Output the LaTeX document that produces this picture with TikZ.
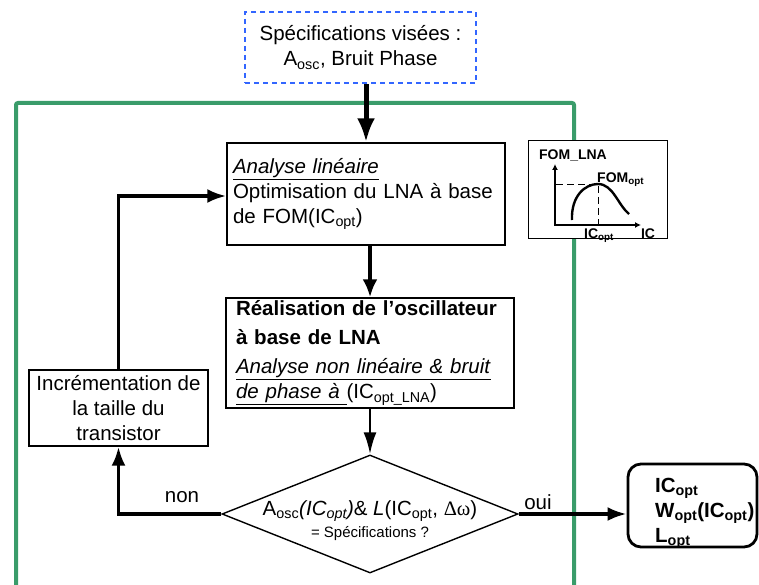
\documentclass[tikz,border=0pt]{standalone}
\usepackage{fontspec}
\setmainfont{Liberation Sans}
\newfontfamily\symbfont{Liberation Serif}
\usepackage{tikz}
\usetikzlibrary{arrows.meta,shapes.geometric}
\definecolor{framegreen}{RGB}{58,156,106}
\definecolor{specblue}{RGB}{51,102,255}

\begin{document}
\begin{tikzpicture}[x=1pt, y=-1pt, >=Latex, font=\fontsize{20.5}{25}\selectfont]
  \tikzstyle{block}=[draw, line width=1.4pt, fill=white, inner sep=0pt]
  \tikzstyle{flow}=[line width=3.5pt, -{Latex[length=19pt,width=14pt]}]
  \tikzstyle{small}=[font=\fontsize{14}{16}\selectfont\bfseries, inner sep=0pt]
  \useasboundingbox (0,0) rectangle (759,585);

  % green frame
  \draw[framegreen, line width=4pt, rounded corners=2pt] (16,590) -- (16,103) -- (574,103) -- (574,590);

  \node[block, draw=specblue, line width=2.8pt, dash pattern=on 5pt off 4pt,
        minimum width=231pt, minimum height=71pt, align=center] (spec) at (360.5,47.5)
        {Spécifications visées :\\A\textsubscript{osc}, Bruit Phase};

  \node[block, minimum width=278pt, minimum height=102pt, text width=266pt, align=left] (lin) at (366,194)
        {\underline{\textit{Analyse linéaire}}\\Optimisation du LNA à base\\de FOM(IC\textsubscript{opt})};

  \node[block, minimum width=288pt, minimum height=110pt, text width=268pt, align=left] (osc) at (370,353)
        {\textbf{Réalisation de l’oscillateur}\\[4pt]\textbf{à base de LNA}\\[4pt]\underline{\textit{Analyse non linéaire \& bruit}}\\\underline{\textit{de phase à }}(IC\textsubscript{opt\_LNA})};

  \node[block, minimum width=179pt, minimum height=76pt, align=center] (incr) at (118.5,408)
        {Incrémentation de\\la taille du\\transistor};

  \node[draw, diamond, line width=1.4pt, minimum width=296pt, minimum height=118pt, inner sep=0pt] (test) at (370,514) {};
  \node[align=center, inner sep=0pt] (testtxt) at (370,521)
        {A\textsubscript{osc}\textit{(IC\textsubscript{opt})}\& \textit{L}(IC\textsubscript{opt}, {\symbfont Δω})\\[-3pt]
         {\fontsize{15}{17}\selectfont = Spécifications ?}};

  \node[draw, line width=2.8pt, rounded corners=13pt, minimum width=129pt, minimum height=83pt] (out) at (692.5,505.5) {};
  \node[align=left, anchor=west, inner sep=0pt, font=\fontsize{20.5}{25}\selectfont\bfseries] (outtxt) at (655,513)
        {IC\textsubscript{opt}\\W\textsubscript{opt}(IC\textsubscript{opt})\\L\textsubscript{opt}};

  % small FOM sketch
  \node[block, line width=1pt, minimum width=139pt, minimum height=97pt] (fom) at (597.5,189.5) {};
  \draw[line width=2.6pt, {Latex[length=6pt,width=6pt]}-{Latex[length=6pt,width=6pt]}] (555,164) -- (555,225) -- (641,225);
  \draw[line width=0.8pt, dash pattern=on 7pt off 4pt] (556,184) -- (598,184) -- (598,224);
  \draw[line width=2.4pt] (572,220) .. controls (571,196) and (585,184) .. (598,184)
                                    .. controls (613,184) and (618,205) .. (629,214);
  \node[small] (fomlna) at (573,155) {FOM\_LNA};
  \node[small, anchor=west] (fomopt) at (597,180) {FOM\textsubscript{opt}};
  \node[small] (icopt) at (599,236) {IC\textsubscript{opt}};
  \node[small] (ic) at (648,234) {IC};

  \draw[line width=5pt, -{Latex[length=24pt,width=18pt]}] (lin.north |- spec.south) -- (lin.north);
  \draw[line width=4pt, -{Latex[length=18pt,width=15pt]}] (osc.north |- lin.south) -- (osc.north);
  \draw[line width=2.6pt, -{Latex[length=22pt,width=13pt]}] (osc) -- (test);
  \draw[flow] (test.west) -| (incr.south);
  \draw[flow] (incr.north) |- ([yshift=-2pt]lin.west);
  \draw[flow] (test.east) -- (test.east -| out.west);

  \node (non) at (182,497) {non};
  \node (oui) at (538,502) {oui};
\end{tikzpicture}
\end{document}
